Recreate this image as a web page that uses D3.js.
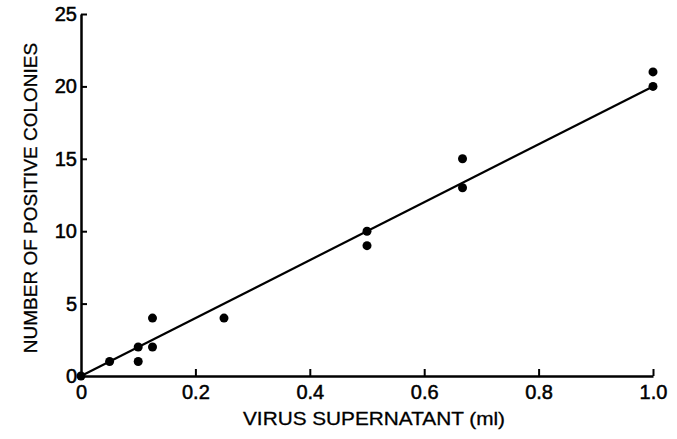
<!DOCTYPE html>
<html>
<head>
<meta charset="utf-8">
<script src="https://cdn.jsdelivr.net/npm/d3@7"></script>
<style>
  html, body { margin: 0; padding: 0; background: #fff; }
  svg { display: block; }
  text { font-family: "Liberation Sans", Arial, Helvetica, sans-serif; fill: #000; }
</style>
</head>
<body>
<svg id="chart" width="677" height="439"></svg>
<script>
// Data
const volumeMl = [0, 0.05, 0.1, 0.1, 0.125, 0.125, 0.25, 0.5, 0.5, 0.667, 0.667, 1.0, 1.0];
const colonies = [0, 1, 2, 1, 4, 2, 4, 10, 9, 15, 13, 21, 20];
const fitX = [0, 1];
const fitY = [0, 20];
const xTicks = [0, 0.2, 0.4, 0.6, 0.8, 1.0];
const yTicks = [0, 5, 10, 15, 20, 25];
const xTitle = "VIRUS SUPERNATANT (ml)";
const yTitle = "NUMBER OF POSITIVE COLONIES";

const svg = d3.select("#chart");
const x = d3.scaleLinear().domain([0, 1]).range([81, 653]);
const y = d3.scaleLinear().domain([0, 25]).range([376, 14]);

// X axis
const xAxis = svg.append("g")
  .attr("transform", `translate(0,${y(0)})`)
  .call(d3.axisBottom(x).tickValues(xTicks)
    .tickFormat(d => d === 0 ? "0" : d3.format(".1f")(d))
    .tickSizeInner(-7).tickSizeOuter(0).tickPadding(9));
// Y axis
const yAxis = svg.append("g")
  .attr("transform", `translate(${x(0)},0)`)
  .call(d3.axisLeft(y).tickValues(yTicks)
    .tickSizeInner(-6).tickSizeOuter(0).tickPadding(4));

[xAxis, yAxis].forEach(g => {
  g.select(".domain").attr("stroke", "#000").attr("stroke-width", 2.5);
  g.selectAll(".tick line").attr("stroke", "#000").attr("stroke-width", 2);
  g.selectAll(".tick text").attr("font-size", 20)
    .attr("font-family", "Liberation Sans, Arial, sans-serif")
    .attr("fill", "#000").attr("stroke", "#000").attr("stroke-width", 0.5);
});
xAxis.selectAll(".tick").filter(d => d === 0).select("line").remove();
yAxis.selectAll(".tick").filter(d => d === 0).select("line").remove();

// Fit line
const line = d3.line().x(d => x(d[0])).y(d => y(d[1]));
svg.append("path")
  .datum(fitX.map((v, i) => [v, fitY[i]]))
  .attr("d", line)
  .attr("fill", "none").attr("stroke", "#000").attr("stroke-width", 2.2);

// Points
svg.append("g").selectAll("circle")
  .data(volumeMl.map((v, i) => [v, colonies[i]]))
  .join("circle")
  .attr("cx", d => x(d[0])).attr("cy", d => y(d[1]))
  .attr("r", 4.5).attr("fill", "#000");

// Titles
svg.append("text")
  .attr("x", 374).attr("y", 425)
  .attr("text-anchor", "middle")
  .attr("font-size", 19)
  .attr("textLength", 262).attr("lengthAdjust", "spacingAndGlyphs")
  .attr("stroke", "#000").attr("stroke-width", 0.3)
  .text(xTitle);

svg.append("text")
  .attr("transform", `translate(37,198) rotate(-90)`)
  .attr("text-anchor", "middle")
  .attr("font-size", 19)
  .attr("stroke", "#000").attr("stroke-width", 0.3)
  .text(yTitle);
</script>
</body>
</html>
